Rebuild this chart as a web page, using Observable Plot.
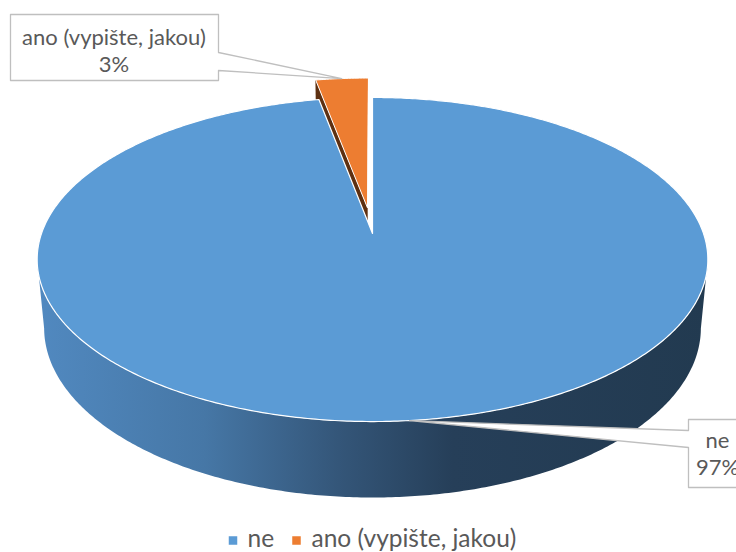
<!DOCTYPE html>
<html><head><meta charset="utf-8">
<script src="https://cdn.jsdelivr.net/npm/d3@7"></script>
<script src="https://cdn.jsdelivr.net/npm/@observablehq/plot@0.6"></script>
<style>body{margin:0;background:#fff} svg{display:block}</style>
</head><body><div id="chart"></div>
<script>
// ---- data ----
const categories = ["ne", "ano (vypište, jakou)"];
const values = [97, 3];
const percentLabels = ["97%", "3%"];
const colors = ["#5b9bd5", "#ed7d31"];
const sideFaceColors = ["#2a4562", "#5e3011"];
const explodeAmount = [0, 0.17];

// ---- geometry (layout) ----
const W = 736, H = 552;
const CX = 372, CY = 233, R = 331;
const sinA = 0.477, cosA = Math.sqrt(1 - sinA * sinA);
const D = 5.48, T = 0.238;
const ux = px => (px - CX) / R, uy = py => (py - CY) / R;

function project(theta, r, h, e, emid) {
  const X = r * Math.sin(theta) + e * Math.sin(emid);
  const Z = -r * Math.cos(theta) - e * Math.cos(emid);
  const w = D - Z * cosA - h * sinA;
  const sy = Z * sinA - h * cosA;
  return {x: X * D / w, y: sy * D / w};
}

const arcs = d3.pie().sort(null).startAngle(0).endAngle(2 * Math.PI)(values);
const slices = arcs.map((a, i) => ({
  i, a0: a.startAngle, a1: a.endAngle, mid: (a.startAngle + a.endAngle) / 2,
  e: explodeAmount[i]
}));

function arcPts(s, from, to, h, r = 1) {
  const n = Math.max(2, Math.ceil(Math.abs(to - from) / 0.01));
  return d3.range(n + 1).map(k => project(from + (to - from) * k / n, r, h, s.e, s.mid));
}

const blue = slices[0], orange = slices[1];

// orange visible cut face (start side) and top face
const orangeCut = [
  project(0, 0, 0, orange.e, orange.mid),
  project(orange.a0, 1, 0, orange.e, orange.mid),
  project(orange.a0, 1, -T, orange.e, orange.mid),
  project(0, 0, -T, orange.e, orange.mid)
];
const orangeTop = [project(0, 0, 0, orange.e, orange.mid), ...arcPts(orange, orange.a0, orange.a1, 0)];

// blue outer wall (visible front part)
const thS = Math.acos(-cosA / D);
const w0 = Math.max(blue.a0, thS), w1 = Math.min(blue.a1, 2 * Math.PI - thS);
const blueWall = [...arcPts(blue, w0, w1, 0), ...arcPts(blue, w1, w0, -T)];
const blueTop = [project(0, 0, 0, blue.e, blue.mid), ...arcPts(blue, blue.a0, blue.a1, 0)];

// callouts
const tipO = project(orange.mid, 1, 0, orange.e, orange.mid);
const tipB = project(blue.mid, 1, 0, blue.e, blue.mid);
const calloutO = [[10,14],[218,14],[218,52],null,[218,70],[218,80],[10,80]]
  .map(p => p ? {x: ux(p[0]), y: uy(p[1])} : tipO);
const calloutB = [[688,419],[752,419],[752,487],[688,487],[688,447],null,[688,430]]
  .map(p => p ? {x: ux(p[0]), y: uy(p[1])} : tipB);

const labelText = [
  {x: ux(113.5), y: uy(37), t: categories[1]},
  {x: ux(113.5), y: uy(64), t: percentLabels[1]},
  {x: ux(717), y: uy(440), t: categories[0]},
  {x: ux(717), y: uy(467), t: percentLabels[0]}
];

const legendSq = [{x: ux(232.5), y: uy(540), c: colors[0]}, {x: ux(296), y: uy(540), c: colors[1]}];
const legendTx = [{x: ux(247), y: uy(538.5), t: categories[0]}, {x: ux(311), y: uy(538.5), t: categories[1]}];

const chart = Plot.plot({
  width: W, height: H, margin: 0,
  style: {fontFamily: "Lato, 'Liberation Sans', sans-serif", background: "#fff"},
  x: {domain: [ux(0), ux(W)], range: [0, W], axis: null},
  y: {domain: [uy(0), uy(H)], range: [0, H], axis: null},
  marks: [
    Plot.line(orangeCut, {x: "x", y: "y", curve: "linear-closed", fill: sideFaceColors[1], stroke: sideFaceColors[1], strokeWidth: 0.5}),
    Plot.line(orangeTop, {x: "x", y: "y", curve: "linear-closed", fill: colors[1], stroke: "#fff", strokeWidth: 1}),
    Plot.line(blueWall, {x: "x", y: "y", curve: "linear-closed", fill: "url(#sideGrad)", stroke: "none"}),
    Plot.line(blueTop, {x: "x", y: "y", curve: "linear-closed", fill: colors[0], stroke: "#fff", strokeWidth: 1.2}),
    Plot.line(calloutO, {x: "x", y: "y", curve: "linear-closed", fill: "#fff", stroke: "#bfbfbf", strokeWidth: 1.3}),
    Plot.line(calloutB, {x: "x", y: "y", curve: "linear-closed", fill: "#fff", stroke: "#bfbfbf", strokeWidth: 1.3}),
    Plot.text(labelText, {x: "x", y: "y", text: "t", fill: "#595959", fontSize: 22, textAnchor: "middle"}),
    Plot.dot(legendSq, {x: "x", y: "y", fill: "c", symbol: "square", r: 4.8, stroke: "none"}),
    Plot.text(legendTx, {x: "x", y: "y", text: "t", fill: "#595959", fontSize: 24.5, textAnchor: "start"})
  ],
  color: {type: "identity"}
});

const ns = "http://www.w3.org/2000/svg";
const defs = document.createElementNS(ns, "defs");
const g = document.createElementNS(ns, "linearGradient");
g.setAttribute("id", "sideGrad");
g.setAttribute("gradientUnits", "userSpaceOnUse");
g.setAttribute("x1", 36); g.setAttribute("x2", 707); g.setAttribute("y1", 0); g.setAttribute("y2", 0);
[[0, "#5189c0"], [0.25, "#4677a6"], [0.45, "#345679"], [0.62, "#263f59"], [1, "#223a50"]].forEach(([o, c]) => {
  const s = document.createElementNS(ns, "stop");
  s.setAttribute("offset", o); s.setAttribute("stop-color", c);
  g.appendChild(s);
});
defs.appendChild(g);
chart.insertBefore(defs, chart.firstChild);
document.getElementById("chart").appendChild(chart);
</script>
</body></html>
